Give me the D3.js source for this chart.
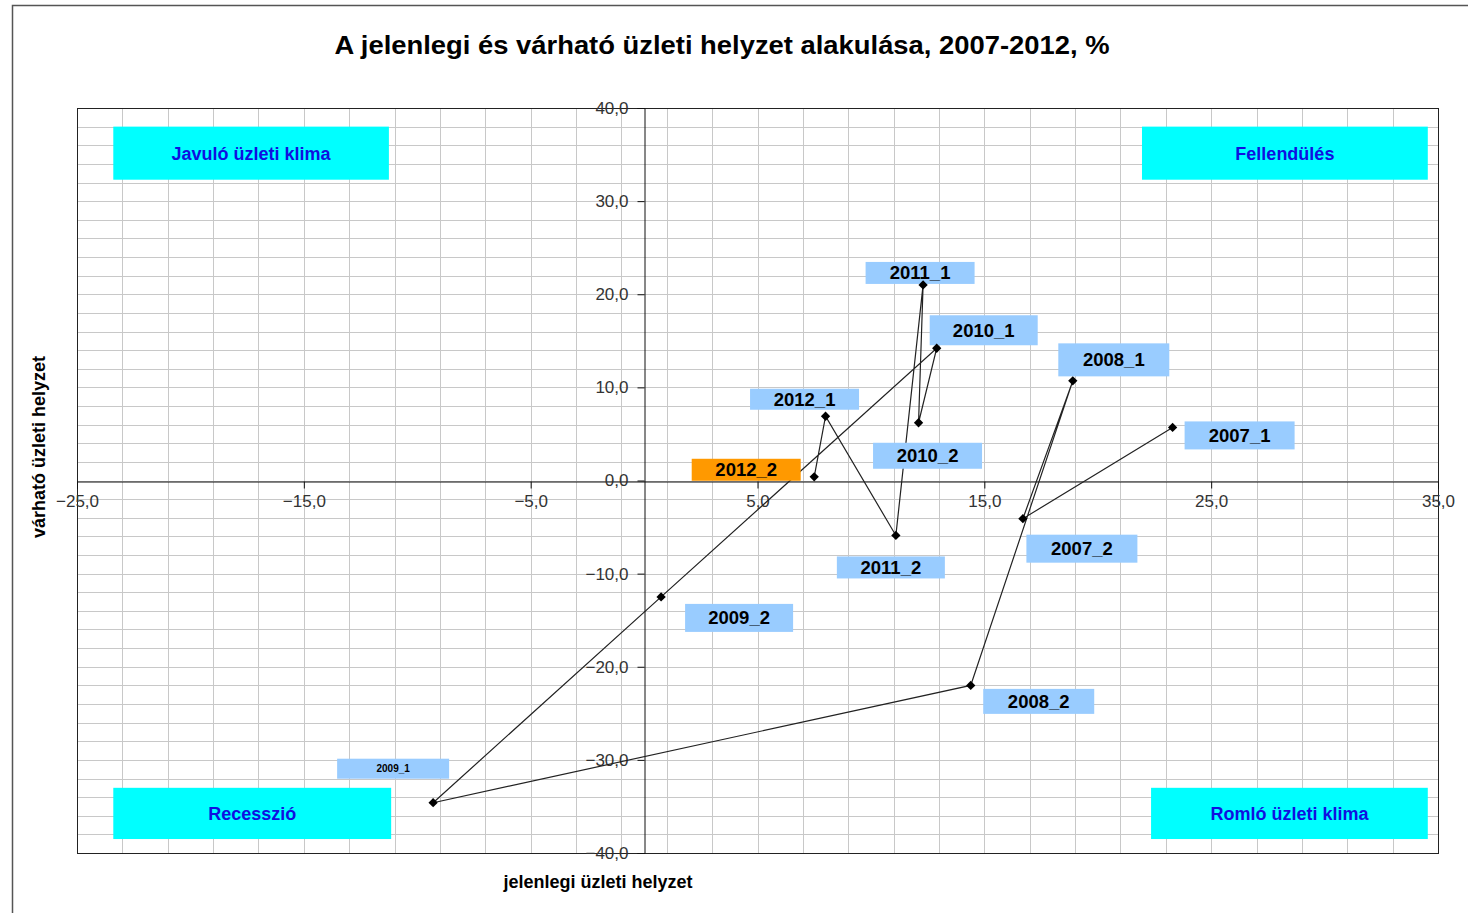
<!DOCTYPE html>
<html lang="hu">
<head>
<meta charset="UTF-8">
<title>A jelenlegi és várható üzleti helyzet alakulása</title>
<script src="https://d3js.org/d3.v7.min.js"></script>
<style>
  body { margin: 0; background: #fff; }
  text { font-family: "Liberation Sans", Arial, sans-serif; }
</style>
</head>
<body>
<script>
  // periods, current business situation (x) and expected situation (y), %
  const periods = ["2007_1", "2007_2", "2008_1", "2008_2", "2009_1", "2009_2",
                   "2010_1", "2010_2", "2011_1", "2011_2", "2012_1", "2012_2"];
  const current  = [23.3, 16.7, 18.9, 14.4, -9.3, 0.75, 12.9, 12.1, 12.3, 11.1, 8.0, 7.5];
  const expected = [5.7, -4.1, 10.7, -22.0, -34.6, -12.5, 14.2, 6.2, 21.0, -5.9, 6.9, 0.4];

  const xTicks = [-25, -15, -5, 5, 15, 25, 35];
  const yTicks = [-40, -30, -20, -10, 0, 10, 20, 30, 40];

  const quadrants = ["Javuló üzleti klima", "Fellendülés", "Recesszió", "Romló üzleti klima"];

  // layout: quadrant boxes in data units [x0, x1, y0, y1]
  const quadBoxes = [
    [-23.4, -11.25, 32.3, 38.0],
    [21.95, 34.55, 32.3, 38.0],
    [-23.4, -11.15, -38.5, -33.0],
    [22.35, 34.55, -38.5, -33.0]
  ];
  // layout: label box centre offsets from point (px) and box size
  const labelOffsets = [
    [67, 8, 110, 28], [59, 30, 111, 28], [41, -21, 111, 33], [68, 16, 111, 25],
    [-40, -34, 112, 20], [78, 21, 108, 28], [47, -18, 108, 30], [9, 33, 109, 26],
    [-3, -12, 109, 22], [-5, 32, 108, 22], [-21, -17, 109, 21], [-68, -7, 109, 22]
  ];

  const W = 1468, H = 913;
  const svg = d3.select("body").append("svg")
    .attr("width", W).attr("height", H);

  // outer frame (top and left visible)
  svg.append("path")
    .attr("d", "M12.5," + H + "V5.5H" + W)
    .attr("fill", "none").attr("stroke", "#555").attr("stroke-width", 1.5);

  const x = d3.scaleLinear().domain([-25, 35]).range([77, 1438]);
  const y = d3.scaleLinear().domain([-40, 40]).range([853, 108]);

  // grid every 2 units
  const g = svg.append("g");
  g.selectAll("line.vx").data(d3.range(-25, 35.01, 2))
    .enter().append("line")
    .attr("x1", d => Math.round(x(d)) + 0.5).attr("x2", d => Math.round(x(d)) + 0.5)
    .attr("y1", y(40)).attr("y2", y(-40))
    .attr("stroke", "#c8c8c8").attr("stroke-width", 1);
  g.selectAll("line.hy").data(d3.range(-40, 40.01, 2))
    .enter().append("line")
    .attr("y1", d => Math.round(y(d)) + 0.5).attr("y2", d => Math.round(y(d)) + 0.5)
    .attr("x1", x(-25)).attr("x2", x(35))
    .attr("stroke", "#c8c8c8").attr("stroke-width", 1);

  // plot border
  svg.append("rect")
    .attr("x", x(-25) + 0.5).attr("y", y(40) + 0.5)
    .attr("width", x(35) - x(-25)).attr("height", y(-40) - y(40))
    .attr("fill", "none").attr("stroke", "#222").attr("stroke-width", 1);

  // axes through origin
  const fmt = d => d3.format(".1f")(d).replace(".", ",");
  const xAxis = d3.axisBottom(x).tickValues(xTicks).tickSize(7).tickFormat(fmt);
  const yAxis = d3.axisLeft(y).tickValues(yTicks).tickSize(7).tickFormat(fmt);

  const gx = svg.append("g")
    .attr("transform", "translate(0," + (Math.round(y(0)) + 0.5) + ")")
    .call(xAxis);
  gx.select(".domain").attr("stroke", "#111");
  gx.selectAll(".tick line").attr("stroke", "#111");
  gx.selectAll(".tick text")
    .attr("font-size", 17).attr("fill", "#333").attr("dy", "0.9em")
    .attr("font-family", "Liberation Sans, Arial, sans-serif");

  const gy = svg.append("g")
    .attr("transform", "translate(" + (Math.round(x(0)) + 0.5) + ",0)")
    .call(yAxis);
  gy.select(".domain").attr("stroke", "#111");
  gy.selectAll(".tick line").attr("stroke", "#111");
  gy.selectAll(".tick text")
    .attr("font-size", 17).attr("fill", "#333").attr("x", -16)
    .attr("font-family", "Liberation Sans, Arial, sans-serif");

  // quadrant boxes
  const qg = svg.append("g");
  quadrants.forEach((q, i) => {
    const b = quadBoxes[i];
    qg.append("rect")
      .attr("x", x(b[0])).attr("y", y(b[3]))
      .attr("width", x(b[1]) - x(b[0])).attr("height", y(b[2]) - y(b[3]))
      .attr("fill", "#00ffff");
    qg.append("text")
      .attr("x", (x(b[0]) + x(b[1])) / 2)
      .attr("y", (y(b[2]) + y(b[3])) / 2 + 1)
      .attr("text-anchor", "middle").attr("dominant-baseline", "central")
      .attr("font-size", 18).attr("font-weight", "bold").attr("fill", "#1010e0")
      .text(q);
  });

  const pts = periods.map((p, i) => ({ p, x: current[i], y: expected[i], i }));

  // connecting line
  const line = d3.line().x(d => x(d.x)).y(d => y(d.y));
  svg.append("path")
    .datum(pts)
    .attr("d", line)
    .attr("fill", "none").attr("stroke", "#222").attr("stroke-width", 1.2);

  // data labels
  const lg = svg.append("g").selectAll("g").data(pts).enter().append("g")
    .attr("transform", d => "translate(" + (x(d.x) + labelOffsets[d.i][0]) + "," + (y(d.y) + labelOffsets[d.i][1]) + ")");
  lg.append("rect")
    .attr("x", d => -labelOffsets[d.i][2] / 2).attr("y", d => -labelOffsets[d.i][3] / 2)
    .attr("width", d => labelOffsets[d.i][2]).attr("height", d => labelOffsets[d.i][3])
    .attr("fill", d => d.p === "2012_2" ? "#ff9900" : "#99ccff");
  lg.append("text")
    .attr("text-anchor", "middle").attr("dominant-baseline", "central")
    .attr("font-weight", "bold")
    .attr("font-size", d => d.p === "2009_1" ? 10 : 18.5)
    .attr("fill", "#000")
    .text(d => d.p);

  // diamond markers
  svg.append("g").selectAll("path").data(pts).enter().append("path")
    .attr("transform", d => "translate(" + x(d.x) + "," + y(d.y) + ")")
    .attr("d", d3.symbol().type(d3.symbolDiamond2).size(55))
    .attr("fill", "#000");

  // title and axis titles
  svg.append("text")
    .attr("x", 722).attr("y", 54)
    .attr("text-anchor", "middle")
    .attr("font-size", 25).attr("font-weight", "bold").attr("fill", "#000")
    .attr("textLength", 775).attr("lengthAdjust", "spacingAndGlyphs")
    .text("A jelenlegi és várható üzleti helyzet alakulása, 2007-2012,  %");

  svg.append("text")
    .attr("x", 598).attr("y", 888)
    .attr("text-anchor", "middle")
    .attr("font-size", 18).attr("font-weight", "bold").attr("fill", "#000")
    .text("jelenlegi üzleti helyzet");

  svg.append("text")
    .attr("transform", "translate(45,447) rotate(-90)")
    .attr("text-anchor", "middle")
    .attr("font-size", 18).attr("font-weight", "bold").attr("fill", "#000")
    .text("várható üzleti helyzet");
</script>
</body>
</html>
